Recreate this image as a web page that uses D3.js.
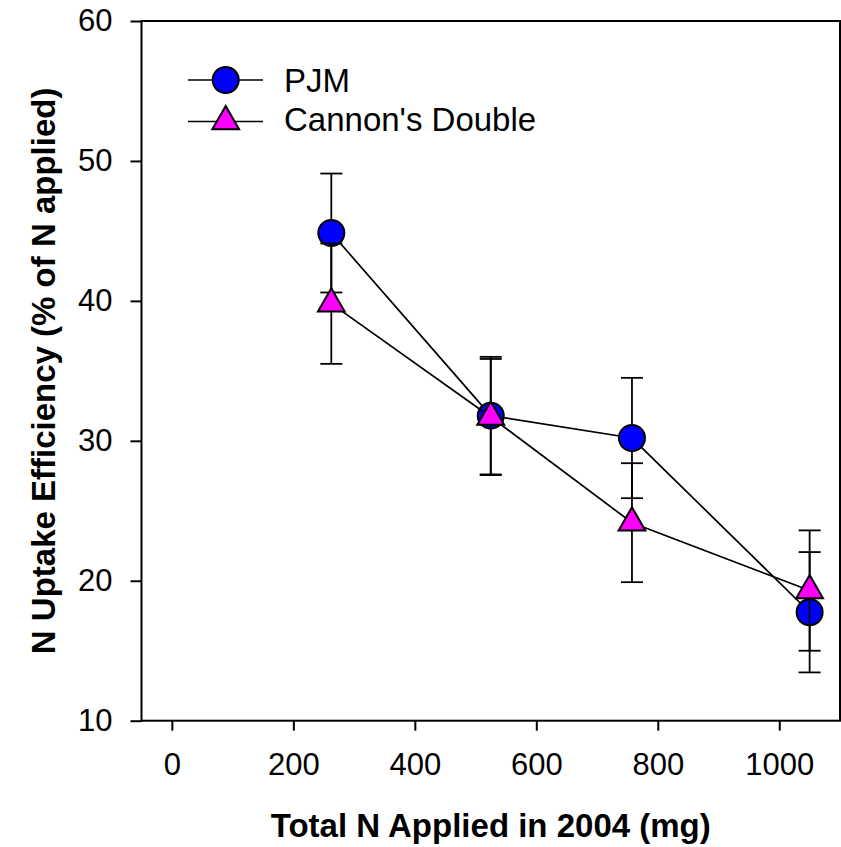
<!DOCTYPE html>
<html>
<head>
<meta charset="utf-8">
<script src="https://cdn.jsdelivr.net/npm/d3@7"></script>
<style>
  html, body { margin: 0; padding: 0; background: #fff; }
  svg { display: block; }
  text { font-family: "Liberation Sans", Arial, Helvetica, sans-serif; }
</style>
</head>
<body>
<svg id="chart" width="841" height="847"></svg>
<script>
// ---- data ----
const nApplied = [262.5, 525, 757.5, 1050];
const pjmMean = [44.85, 31.8, 30.2, 17.75];
const pjmErr = [4.25, 4.2, 4.3, 4.3];
const cannonMean = [39.8, 31.7, 24.15, 19.3];
const cannonErr = [4.3, 4.15, 4.25, 4.3];
const seriesNames = ["PJM", "Cannon's Double"];
const xTicks = [0, 200, 400, 600, 800, 1000];
const yTicks = [10, 20, 30, 40, 50, 60];
const xTitle = "Total N Applied in 2004 (mg)";
const yTitle = "N Uptake Efficiency (% of N applied)";

(function () {
const svg = d3.select("#chart");
const pLeft = 141.5, pRight = 840, pTop = 21, pBottom = 720.7;

const x = d3.scaleLinear().domain([-50, 1100]).range([pLeft, pRight]);
const y = d3.scaleLinear().domain([10, 60]).range([pBottom, pTop]);

// frame
svg.append("rect")
  .attr("x", pLeft).attr("y", pTop)
  .attr("width", pRight - pLeft).attr("height", pBottom - pTop)
  .attr("fill", "none").attr("stroke", "#000").attr("stroke-width", 2);

// axes
const xAxis = d3.axisBottom(x).tickValues(xTicks).tickSize(10).tickPadding(22).tickFormat(d3.format("d"));
const gx = svg.append("g").attr("transform", `translate(0,${pBottom})`).call(xAxis);
gx.select(".domain").remove();
gx.selectAll("line").attr("stroke", "#000").attr("stroke-width", 2);
gx.selectAll("text").attr("font-size", 31).attr("fill", "#000");

const yAxis = d3.axisLeft(y).tickValues(yTicks).tickSize(11).tickPadding(18).tickFormat(d3.format("d"));
const gy = svg.append("g").attr("transform", `translate(${pLeft},0)`).call(yAxis);
gy.select(".domain").remove();
gy.selectAll("line").attr("stroke", "#000").attr("stroke-width", 2);
gy.selectAll("text").attr("font-size", 31).attr("fill", "#000");

// axis titles
svg.append("text")
  .attr("x", (pLeft + pRight) / 2).attr("y", 837)
  .attr("text-anchor", "middle").attr("font-weight", "bold").attr("font-size", 33)
  .text(xTitle);
svg.append("text")
  .attr("transform", `translate(55,${(pTop + pBottom) / 2}) rotate(-90)`)
  .attr("text-anchor", "middle").attr("font-weight", "bold").attr("font-size", 33)
  .text(yTitle);

const circleSym = d3.symbol().type(d3.symbolCircle).size(Math.PI * 13 * 13);
const triSym = d3.symbol().type(d3.symbolTriangle).size(310);

function drawSeries(means, errs, sym, color) {
  const pts = nApplied.map((v, i) => ({ x: v, y: means[i], e: errs[i] }));
  const g = svg.append("g");
  g.append("path")
    .attr("d", d3.line().x(d => x(d.x)).y(d => y(d.y))(pts))
    .attr("fill", "none").attr("stroke", "#000").attr("stroke-width", 1.7);
  const eb = g.selectAll("g.eb").data(pts).join("g").attr("class", "eb");
  eb.append("line")
    .attr("x1", d => x(d.x)).attr("x2", d => x(d.x))
    .attr("y1", d => y(d.y - d.e)).attr("y2", d => y(d.y + d.e))
    .attr("stroke", "#000").attr("stroke-width", 1.8);
  eb.append("line")
    .attr("x1", d => x(d.x) - 11).attr("x2", d => x(d.x) + 11)
    .attr("y1", d => y(d.y + d.e)).attr("y2", d => y(d.y + d.e))
    .attr("stroke", "#000").attr("stroke-width", 1.8);
  eb.append("line")
    .attr("x1", d => x(d.x) - 11).attr("x2", d => x(d.x) + 11)
    .attr("y1", d => y(d.y - d.e)).attr("y2", d => y(d.y - d.e))
    .attr("stroke", "#000").attr("stroke-width", 1.8);
  g.selectAll("path.m").data(pts).join("path").attr("class", "m")
    .attr("d", sym)
    .attr("transform", d => `translate(${x(d.x)},${y(d.y)})`)
    .attr("fill", color).attr("stroke", "#000").attr("stroke-width", 2);
}

drawSeries(pjmMean, pjmErr, circleSym, "#0000ff");
drawSeries(cannonMean, cannonErr, triSym, "#ff00ff");

// legend
const legend = [
  { name: seriesNames[0], sym: circleSym, color: "#0000ff", cy: 80, ty: 80 },
  { name: seriesNames[1], sym: triSym, color: "#ff00ff", cy: 121.5, ty: 119 }
];
const lg = svg.append("g");
legend.forEach(l => {
  lg.append("line").attr("x1", 188).attr("x2", 263).attr("y1", l.cy).attr("y2", l.cy)
    .attr("stroke", "#000").attr("stroke-width", 1.7);
  lg.append("path").attr("d", l.sym).attr("transform", `translate(225.7,${l.cy})`)
    .attr("fill", l.color).attr("stroke", "#000").attr("stroke-width", 2);
  lg.append("text").attr("x", 284).attr("y", l.ty)
    .attr("dy", "0.35em").attr("font-size", 33).text(l.name);
});
})();
</script>
</body>
</html>
